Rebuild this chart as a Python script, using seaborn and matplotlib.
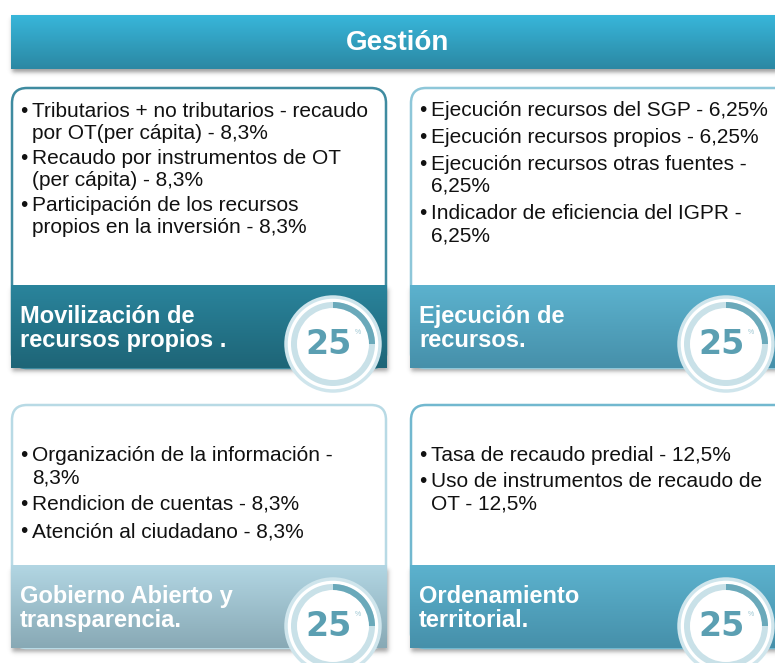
import numpy as np
import seaborn as sns
import matplotlib.pyplot as plt
from matplotlib.patches import FancyBboxPatch, Circle, Wedge

# datos del cuadro
header = "Gestión"
titles = ["Movilización de\nrecursos propios .", "Ejecución de\nrecursos.",
          "Gobierno Abierto y\ntransparencia.", "Ordenamiento\nterritorial."]
pesos = [25, 25, 25, 25]
items_mov = ["Tributarios + no tributarios - recaudo\npor OT(per cápita) - 8,3%",
             "Recaudo por instrumentos de OT\n(per cápita) - 8,3%",
             "Participación de los recursos\npropios en la inversión - 8,3%"]
items_eje = ["Ejecución recursos del SGP - 6,25%",
             "Ejecución recursos propios - 6,25%",
             "Ejecución recursos otras fuentes -\n6,25%",
             "Indicador de eficiencia del IGPR -\n6,25%"]
items_gob = ["Organización de la información -\n8,3%",
             "Rendicion de cuentas - 8,3%",
             "Atención al ciudadano - 8,3%"]
items_ord = ["Tasa de recaudo predial - 12,5%",
             "Uso de instrumentos de recaudo de\nOT - 12,5%"]
items = [items_mov, items_eje, items_gob, items_ord]

sns.set_theme(style="white")
plt.rcParams['font.family'] = ['Liberation Sans', 'DejaVu Sans']

# geometria (pixeles)
cajas = [(12, 88, 386, 368), (411, 88, 792, 368), (12, 405, 386, 648), (411, 405, 792, 648)]
alto_banda = 83
bordes = ["#3f8ba0", "#8ec7d9", "#b8dae5", "#72b8cf"]
grad = [("#2a849c", "#1e6577"), ("#5cb2ce", "#4690aa"),
        ("#b2d6e3", "#88a9b5"), ("#5cb2ce", "#4690aa")]
texto_y0 = [117, 116, 461, 461]
paso_item = [25, 27, 27, 26]
paso_linea = 22
centros = [(333, 344), (726, 344), (333, 626), (726, 626)]

fig = plt.figure(figsize=(7.75, 6.63), dpi=100)
ax = fig.add_axes([0, 0, 1, 1])
ax.axis('off')


def sombra(x0, y0, x1, y1, dy=4, s=3.0, a=0.35):
    xs = np.arange(x0 - 12, x1 + 12, 0.5)
    ys = np.arange(y0 - 12, y1 + 16, 0.5)
    fx = 0.5 * (np.tanh((xs - x0 - 1) / s) - np.tanh((xs - x1 - 1) / s))
    fy = 0.5 * (np.tanh((ys - y0 - dy) / s) - np.tanh((ys - y1 - dy) / s))
    img = np.zeros((len(ys), len(xs), 4))
    img[..., :3] = 0.15
    img[..., 3] = a * np.outer(fy, fx)
    ax.imshow(img, extent=(xs[0], xs[-1], ys[-1], ys[0]), origin='upper',
              aspect='auto', zorder=1, interpolation='bilinear')


def degradado(x0, y0, x1, y1, c0, c1, z=3):
    cmap = sns.blend_palette([c0, c1], as_cmap=True)
    g = np.linspace(0, 1, 100).reshape(-1, 1)
    ax.imshow(g, cmap=cmap, extent=(x0, x1, y1, y0), origin='upper',
              aspect='auto', zorder=z)


# encabezado
sombra(11, 15, 790, 69, dy=4, s=2.5, a=0.45)
degradado(11, 15, 790, 69, "#38b6da", "#2b88a3")
ax.text(398, 43, header, color='white', fontsize=20, fontweight='bold',
        ha='center', va='center', zorder=6)

for k, (x0, y0, x1, y1) in enumerate(cajas):
    yb = y1 - alto_banda
    caja = FancyBboxPatch((x0, y0), x1 - x0, y1 - y0,
                          boxstyle="round,pad=0,rounding_size=15",
                          fc='white', ec=bordes[k], lw=1.8, zorder=2)
    ax.add_patch(caja)
    sombra(x0 - 1, yb, x1 + 1, y1, dy=4, s=2.5, a=0.4)
    degradado(x0 - 1, yb, x1 + 1, y1, grad[k][0], grad[k][1])

    # viñetas
    y = texto_y0[k]
    for it in items[k]:
        lineas = it.split("\n")
        ax.text(x0 + 8, y, "•", fontsize=15, color='#111111', va='baseline', zorder=6)
        for j, ln in enumerate(lineas):
            ax.text(x0 + 20, y + j * paso_linea, ln, fontsize=15, color='#111111',
                    va='baseline', zorder=6)
        y += (len(lineas) - 1) * paso_linea + paso_item[k]

    # titulo de la banda
    for j, ln in enumerate(titles[k].split("\n")):
        ax.text(x0 + 8, yb + 38 + j * 24, ln, fontsize=17, fontweight='bold',
                color='white', va='baseline', zorder=6)

    # anillo de porcentaje (eje y hacia abajo: -90 es arriba)
    cx, cy = centros[k]
    ax.add_patch(Circle((cx, cy), 47, fc='white', ec='#cfe5ec', lw=2.5, zorder=7))
    ax.add_patch(Wedge((cx, cy), 42, 0, 360, width=6, fc='#c9e1e8', ec='none', zorder=8))
    ax.add_patch(Wedge((cx, cy), 42, -90, -90 + 360 * pesos[k] / 100, width=6,
                       fc='#6aa9ba', ec='none', zorder=9))
    ax.text(cx - 4, cy + 1, str(pesos[k]), fontsize=24, fontweight='bold',
            family='DejaVu Sans', color='#5b9fb2', ha='center', va='center', zorder=10)
    ax.text(cx + 22, cy - 12, "%", fontsize=5, color='#9cc6d2',
            ha='left', va='center', zorder=10)

# el eje y crece hacia abajo (coordenadas de pixel)
ax.set_xlim(0, 775)
ax.set_ylim(663, 0)
ax.set_aspect('auto')

fig.savefig("out.png", dpi=100)
